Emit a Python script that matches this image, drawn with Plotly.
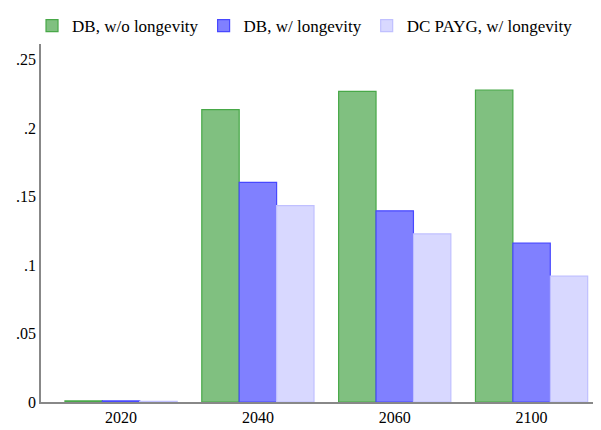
import plotly.graph_objects as go

years = ["2020", "2040", "2060", "2100"]
db_wo = [0.0008, 0.2135, 0.2268, 0.2278]
db_w = [0.0008, 0.1603, 0.1396, 0.1160]
dc_w = [0.0005, 0.1434, 0.1227, 0.0919]
series_names = ["DB, w/o longevity", "DB, w/ longevity", "DC PAYG, w/ longevity"]
y_ticks = [0, 0.05, 0.1, 0.15, 0.2, 0.25]
y_ticklabels = ["0", ".05", ".1", ".15", ".2", ".25"]

pos = list(range(len(years)))
styles = [
    ("#80c080", "#48a848"),
    ("#8080ff", "#4848ff"),
    ("#d8d8ff", "#c0c0ff"),
]

FONT = "Liberation Serif"

fig = go.Figure()
for name, vals, (fill, line) in zip(series_names, [db_wo, db_w, dc_w], styles):
    fig.add_trace(go.Bar(
        x=pos, y=vals, name=name,
        marker=dict(color=fill, line=dict(color=line, width=1.2)),
    ))

# page body has an 8px default margin, so the figure is sized to fit inside it
fig.update_layout(
    width=593, height=422,
    barmode="group", bargap=0.18, bargroupgap=0,
    plot_bgcolor="white", paper_bgcolor="white",
    margin=dict(l=33, r=1, t=27, b=28),
    font=dict(family=FONT, size=16, color="black"),
    legend=dict(orientation="h", x=0.0405, xref="container", xanchor="left",
                y=1.0, yanchor="top", yref="container",
                font=dict(family=FONT, size=17, color="black"), itemwidth=30,
                traceorder="normal"),
    xaxis=dict(
        range=[-0.585, 3.5], tickvals=pos, ticktext=years,
        showline=True, linecolor="#888888", linewidth=1.5,
        showgrid=False, zeroline=False, ticks="",
        tickfont=dict(family=FONT, size=16, color="black"),
    ),
    yaxis=dict(
        range=[0, 0.2614], tickvals=y_ticks, ticktext=y_ticklabels,
        showline=True, linecolor="#888888", linewidth=1.5,
        showgrid=False, zeroline=False, ticks="", ticklen=0,
        tickfont=dict(family=FONT, size=16, color="black"),
    ),
)

fig.write_html("out.html", config={"displayModeBar": False})
